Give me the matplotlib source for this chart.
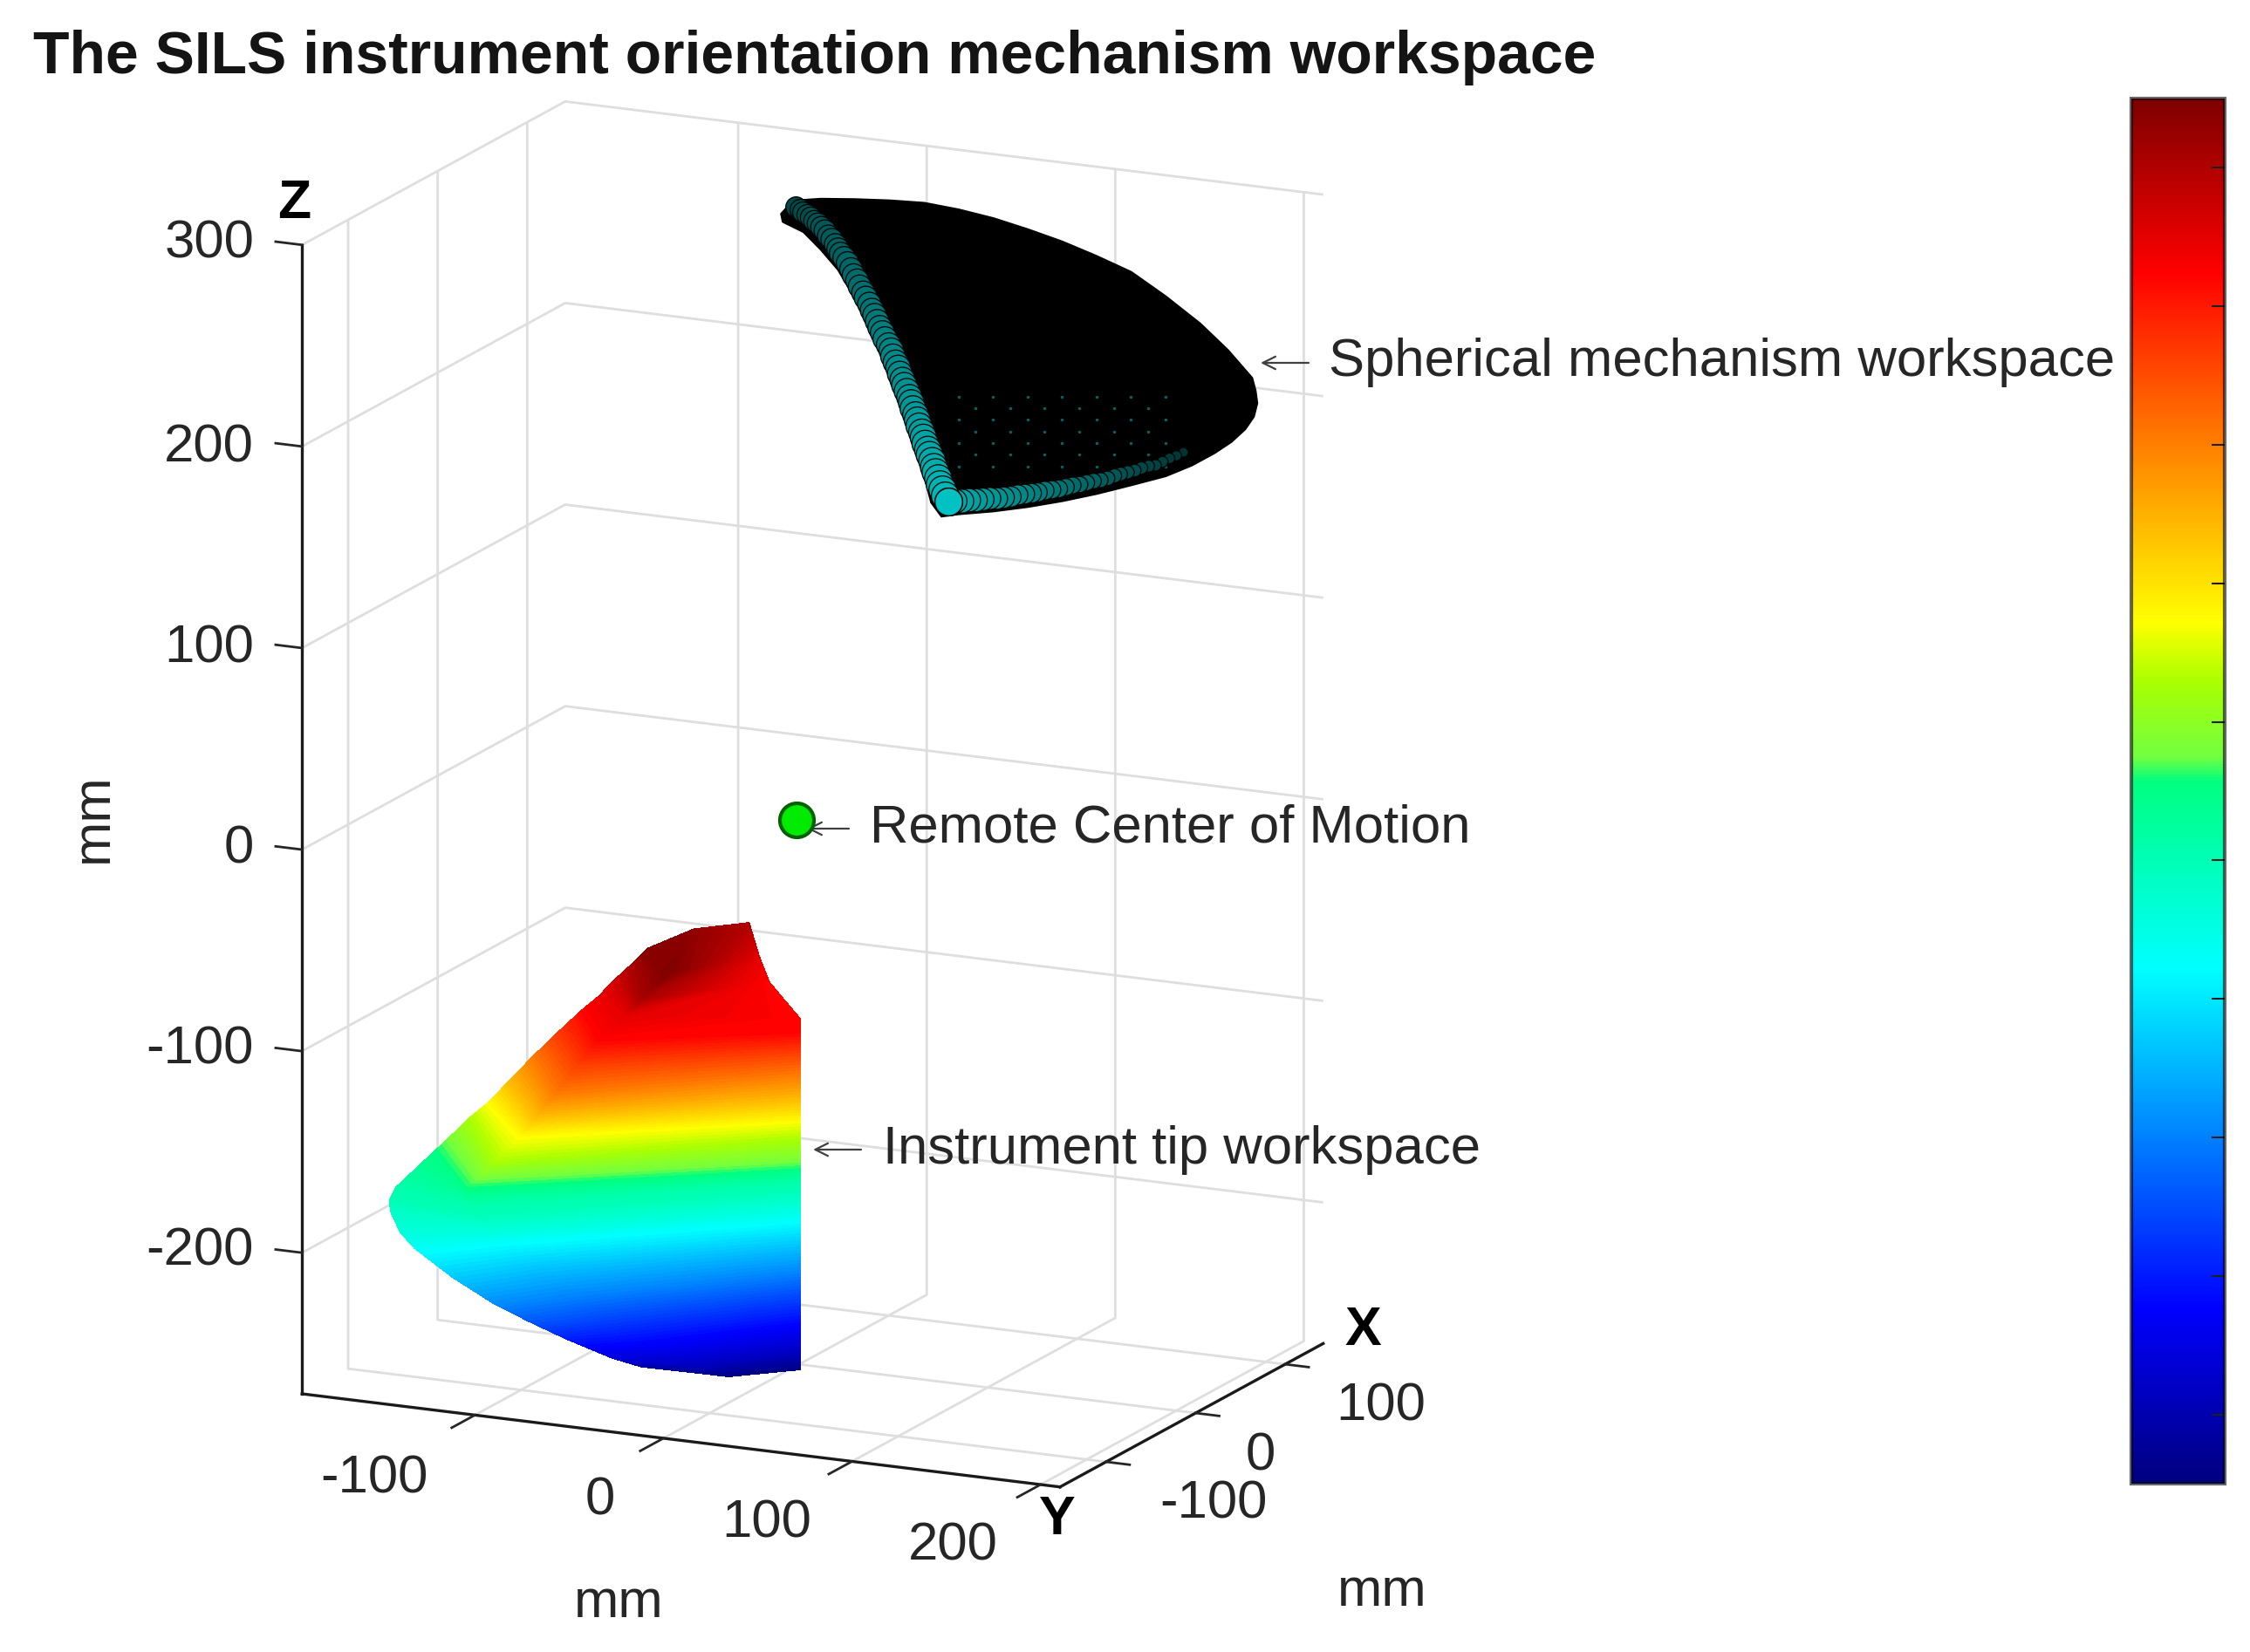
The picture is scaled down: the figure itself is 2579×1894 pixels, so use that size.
import numpy as np
import matplotlib
matplotlib.use("Agg")
import matplotlib.pyplot as plt
from matplotlib.colors import LinearSegmentedColormap, Normalize
from matplotlib.cm import ScalarMappable
from mpl_toolkits.mplot3d.art3d import Poly3DCollection

plt.rcParams['font.family'] = ['Liberation Sans', 'DejaVu Sans']

W, H = 2579, 1894

title = "The SILS instrument orientation mechanism workspace"
x_ticks = [-100, 0, 100]
y_ticks = [-100, 0, 100, 200]
z_ticks = [-200, -100, 0, 100, 200, 300]
x_limits = (142.5, -151.5)
y_limits = (-191.7, 210.3)
z_limits = (-270, 300)
bar_ticks = [0.05, 0.15, 0.25, 0.35, 0.45, 0.55, 0.65, 0.75, 0.85, 0.95]

# Instrument tip workspace: rows of (left, middle, right) points
tip_x = -105
tip_y = [
    [-33.7, 12.6, 50.4], [-49.1, -2.9, 50.4], [-73.8, -26.0, 50.4], [-93.9, -49.1, 50.4],
    [-112.4, -72.3, 50.4], [-134.0, -87.7, 50.4], [-154.1, -106.2, 50.4], [-161.8, -112.4, 50.4],
    [-167.0, -118.6, 50.4], [-167.4, -120.9, 50.4],
    [-164.1, -123.2, 50.4], [-144.0, -126.3, 50.4], [-135.6, -120.1, 50.4], [-124.0, -110.9, 50.4],
    [-115.5, -98.5, 50.4], [-103.9, -89.3, 50.4], [-92.3, -80.0, 50.4], [-80.0, -67.7, 50.4],
    [-65.3, -56.9, 50.4], [-56.9, -41.4, 50.4], [-47.6, -33.7, 34.2], [-38.3, -19.8, 28.8],
    [-30.6, -5.9, 23.4],
]
tip_z = [
    [-249.8, -249.3, -241.5], [-247.3, -246.0, -233.5], [-240.5, -236.6, -219.1], [-234.0, -227.3, -205.4],
    [-227.3, -219.5, -193.4], [-216.9, -207.6, -180.6], [-204.8, -196.9, -167.8], [-197.7, -191.2, -160.6],
    [-187.8, -185.6, -154.2], [-182.2, -180.9, -150.2],
    [-175.6, -177.3, -147.0], [-155.7, -171.2, -141.4], [-147.4, -165.7, -137.4], [-135.7, -155.9, -126.1],
    [-128.3, -143.2, -118.1], [-115.8, -131.7, -106.9], [-103.2, -120.2, -95.7], [-90.6, -104.4, -84.5],
    [-76.2, -90.4, -74.1], [-68.8, -75.8, -67.2], [-58.8, -66.9, -51.1], [-49.8, -52.4, -38.9],
    [-41.7, -29.2, -22.7],
]
tip_v = [
    [0.03, 0.00, 0.00], [0.09, 0.06, 0.06], [0.15, 0.125, 0.125], [0.21, 0.19, 0.19],
    [0.26, 0.25, 0.25], [0.32, 0.31, 0.31], [0.38, 0.372, 0.372], [0.41, 0.41, 0.41],
    [0.43, 0.44, 0.44], [0.45, 0.455, 0.455],
    [0.46, 0.47, 0.47], [0.50, 0.507, 0.507], [0.53, 0.53, 0.53], [0.58, 0.58, 0.58],
    [0.622, 0.622, 0.622], [0.69, 0.69, 0.69], [0.75, 0.75, 0.75], [0.81, 0.81, 0.81],
    [0.87, 0.87, 0.87], [0.89, 0.90, 0.87], [0.92, 0.96, 0.87], [0.96, 1.00, 0.90],
    [1.00, 0.98, 0.95],
]

# Spherical mechanism workspace outline
sph_x = 100
sph_y = [-57.3, -50.9, -36.3, -18.0, 0.3, 18.7, 37.0, 55.3, 73.6, 91.9, 110.2, 128.5, 146.8, 165.1,
         179.8, 192.6, 194.4, 195.3, 193.5, 188.9, 181.6, 172.5, 160.6, 146.8, 128.5, 110.2, 91.9,
         73.6, 55.3, 37.0, 27.8, 22.3, 18.7, 15.0, 10.4, 5.8, -1.5, -8.8, -18.0, -27.1, -36.3, -45.4, -56.4]
sph_z = [270.2, 277.5, 280.1, 282.0, 283.5, 284.4, 283.2, 281.0, 277.6, 273.6, 268.5, 262.7, 252.7, 241.3,
         229.8, 217.5, 211.4, 205.3, 198.4, 191.6, 184.5, 177.8, 170.4, 163.5, 156.9, 150.5, 144.8,
         139.8, 135.5, 132.0, 129.8, 136.1, 148.6, 161.2, 175.1, 189.1, 204.0, 219.1, 232.5, 245.9, 254.9, 262.5, 266.3]

# Markers along the two rim edges
edge1_y = [31.5, 29.9, 28.4, 27.2, 26.0, 24.9, 23.8, 22.7, 21.6, 20.4, 19.2, 18.2, 17.2, 16.1, 15.0, 13.9,
           12.8, 11.7, 10.6, 9.4, 8.2, 7.0, 5.8, 4.6, 3.5, 2.2, 0.9, -0.5, -1.9, -3.3, -4.8, -6.1, -7.5, -9.0,
           -10.6, -12.2, -13.8, -15.4, -17.1, -18.7, -20.4, -22.2, -24.0, -25.5, -27.1, -28.7, -30.4, -32.2,
           -34.1, -35.9, -37.7, -39.5, -41.4, -43.4, -45.4, -47.2, -49.1]
edge1_z = [137.6, 140.3, 143.1, 145.8, 148.5, 151.2, 154.0, 156.8, 159.6, 162.3, 165.0, 167.8, 170.6, 173.3,
           176.1, 178.9, 181.7, 184.4, 187.1, 189.9, 192.6, 195.4, 198.2, 200.9, 203.6, 206.3, 209.1, 211.8,
           214.6, 217.3, 220.0, 222.7, 225.4, 228.1, 230.9, 233.6, 236.3, 239.0, 241.7, 244.4, 247.1, 249.7,
           252.4, 254.4, 256.4, 258.4, 260.4, 262.3, 264.3, 265.9, 267.5, 268.8, 270.0, 271.2, 272.4, 273.4, 274.4]
edge2_y = [35.1, 38.8, 42.4, 46.1, 49.8, 53.4, 57.1, 60.8, 64.5, 68.1, 71.8, 75.4, 79.0, 82.7, 86.4, 90.0, 93.7,
           97.4, 101.0, 104.7, 108.4, 112.0, 115.7, 119.4, 123.0, 126.7, 130.4, 134.0, 137.7, 141.3, 145.0,
           148.7, 152.4, 156.0]
edge2_z = [138.2, 138.8, 139.4, 140.0, 140.8, 141.5, 142.3, 143.1, 144.0, 145.0, 145.9, 146.9, 147.8, 148.8,
           149.8, 150.8, 152.0, 153.1, 154.2, 155.4, 156.5, 157.6, 159.0, 160.4, 161.8, 163.2, 164.6, 166.0,
           167.2, 168.4, 170.5, 172.7, 174.5, 176.4]

# Specks showing through the dark interior
dots_y = [37, 55.3, 73.6, 91.9, 110.2, 128.5, 146.8, 37, 55.3, 73.6, 91.9, 110.2, 128.5, 146.8,
          37, 55.3, 73.6, 91.9, 110.2, 128.5, 146.8, 37, 55.3, 73.6, 91.9, 110.2, 128.5, 146.8,
          46.1, 64.4, 82.7, 101, 119.4, 137.7, 46.1, 64.4, 82.7, 101, 119.4, 137.7,
          46.1, 64.4, 82.7, 101, 119.4, 137.7]
dots_z = [155.5, 157.6, 159.7, 161.8, 163.9, 166, 168.1, 167, 169.1, 171.2, 173.3, 175.4, 177.5, 179.6,
          178.6, 180.7, 182.8, 184.9, 187, 189.1, 191.2, 190.1, 192.2, 194.3, 196.4, 198.5, 200.6, 202.7,
          162.4, 164.5, 166.6, 168.7, 170.8, 172.9, 173.9, 176, 178.1, 180.2, 182.3, 184.4,
          185.5, 187.6, 189.7, 191.8, 193.9, 196]

# Remote centre of motion
rcm_x, rcm_y, rcm_z = 0, -1.5, 0

cmap = LinearSegmentedColormap.from_list("bar", [
    (0.0, (0, 0, 0.50)), (0.125, (0, 0, 1)), (0.372, (0, 1, 1)), (0.507, (0, 1, 0.5)),
    (0.525, (0.45, 1, 0.25)), (0.58, (0.67, 1, 0)), (0.622, (1, 1, 0)), (0.75, (1, 0.5, 0)),
    (0.875, (1, 0, 0)), (1.0, (0.5, 0, 0))], N=512)

fig = plt.figure(figsize=(W / 100, H / 100), dpi=100, facecolor='white')


def px(x, y):
    return x / W, 1 - y / H


A = 1758
ax = fig.add_axes([28.7 / W, 80.7 / H, A / W, A / H], projection='3d', proj_type='ortho')
ax.computed_zorder = False
ax.patch.set_alpha(0)
ax.set_xlim(*x_limits, view_margin=0)
ax.set_ylim(*y_limits, view_margin=0)
ax.set_zlim(*z_limits, view_margin=0)
ax.set_box_aspect((294, 402, 570))
ax.view_init(elev=15, azim=25.4)
ax.set_xticks(x_ticks)
ax.set_yticks(y_ticks)
ax.set_zticks(z_ticks)
ax.set_xticklabels([])
ax.set_yticklabels([])
ax.set_zticklabels([])
for axis in (ax.xaxis, ax.yaxis, ax.zaxis):
    axis.set_pane_color((1, 1, 1, 0))
    axis.pane.set_edgecolor((1, 1, 1, 0))
    axis.line.set_color('#1a1a1a')
    axis.line.set_linewidth(2.4)
    axis._axinfo['grid'].update(color='#dedede', linewidth=2.0)
    axis._axinfo['tick'].update(inward_factor=0.0, outward_factor=0.0)
ax.zaxis.set_ticks_position('lower')

TICK = '#262626'
x_lo, x_hi = min(x_limits), max(x_limits)
y_lo, y_hi = y_limits
z_lo = z_limits[0]
for t in y_ticks:
    ax.plot([x_lo, x_lo - 26], [t, t], [z_lo, z_lo], color=TICK, lw=2.0, zorder=1)
for t in x_ticks:
    ax.plot([t, t], [y_hi, y_hi + 12.5], [z_lo, z_lo], color=TICK, lw=2.0, zorder=1)
for t in z_ticks:
    ax.plot([x_lo, x_lo], [y_lo, y_lo - 14], [t, t], color=TICK, lw=2.0, zorder=1)

ax.contourf(np.array(tip_v), np.array(tip_y), np.array(tip_z), levels=np.linspace(0, 1, 129),
            zdir='x', offset=tip_x, cmap=cmap, extend='both', antialiased=False, zorder=3)

verts = [list(zip([sph_x] * len(sph_y), sph_y, sph_z))]
ax.add_collection3d(Poly3DCollection(verts, facecolors='black', edgecolors='black', linewidths=1.5, zorder=4))

ax.scatter([sph_x] * len(dots_y), dots_y, dots_z, s=6, c=[(0, 0.4, 0.4)], depthshade=False, linewidths=0, zorder=5)


def rim(ys, zs, d_far, d_near, t_far, t_near, base):
    n = len(ys)
    diam = np.linspace(d_far, d_near, n)
    shade = np.linspace(t_far, t_near, n)
    for i, (yv, zv) in enumerate(zip(ys[::-1], zs[::-1])):
        ax.scatter([sph_x], [yv], [zv], s=diam[i] ** 2, c=[(0, shade[i], shade[i])], edgecolors='black',
                   linewidths=0.9, depthshade=False, zorder=base + i * 0.001)


rim(edge2_y, edge2_z, 8, 20, 0.2, 0.66, 6)
rim(edge1_y, edge1_z, 17, 23, 0.28, 0.72, 7)
ax.scatter([sph_x], [edge1_y[0]], [edge1_z[0]], s=520, c=[(0, 0.76, 0.76)], edgecolors='black',
           linewidths=1.0, depthshade=False, zorder=8)

ax.scatter([rcm_x], [rcm_y], [rcm_z], s=790, c=[(0, 0.92, 0)], edgecolors=(0, 0.38, 0), linewidths=3,
           depthshade=False, zorder=9)

FS = 44.4
for t, (xp, yp) in zip(y_ticks, [(429, 1696), (688, 1721), (879, 1747), (1092, 1773)]):
    fig.text(*px(xp, yp), str(t), ha='center', va='center', fontsize=FS, color=TICK)
for t, (xp, yp) in zip(x_ticks, [(1391, 1725), (1445, 1670), (1583, 1613)]):
    fig.text(*px(xp, yp), str(t), ha='center', va='center', fontsize=FS, color=TICK)
for t, yp in zip(z_ticks, [1435, 1204, 974, 744, 514, 280]):
    fig.text(*px(291, yp), str(t), ha='right', va='center', fontsize=FS, color=TICK)

fig.text(*px(709, 1838), 'mm', ha='center', va='center', fontsize=FS, color=TICK)
fig.text(*px(1584, 1825), 'mm', ha='center', va='center', fontsize=FS, color=TICK)
fig.text(*px(107, 938), 'mm', ha='center', va='center', fontsize=FS, color=TICK, rotation=90)
fig.text(*px(1212, 1742), 'Y', ha='center', va='center', fontsize=45, fontweight='bold', color='black')
fig.text(*px(1562, 1526), 'X', ha='center', va='center', fontsize=45, fontweight='bold', color='black')
fig.text(*px(337, 234), 'Z', ha='center', va='center', fontsize=45, fontweight='bold', color='black')
fig.text(*px(38, 66), title, ha='left', va='center', fontsize=48.9, fontweight='bold', color='#141414')

notes = [("Spherical mechanism workspace", 1523, 415, 1500, 1445, 416),
         ("Remote Center of Motion", 997, 950, 973, 925, 950),
         ("Instrument tip workspace", 1012, 1318, 987, 932, 1318)]
for label, tx, ty, x0, x1, ya in notes:
    fig.text(*px(tx, ty), label, ha='left', va='center', fontsize=FS, color=TICK)
    ax.annotate('', xy=(x1, H - ya), xytext=(x0, H - ya), xycoords='figure pixels', textcoords='figure pixels',
                arrowprops=dict(arrowstyle='->', color='#404040', lw=1.6, mutation_scale=26,
                                shrinkA=0, shrinkB=0))

cax = fig.add_axes([2443 / W, 1 - 1701 / H, 107 / W, 1588 / H])
cb = fig.colorbar(ScalarMappable(norm=Normalize(0, 1), cmap=cmap), cax=cax, ticks=bar_ticks)
cb.ax.tick_params(direction='in', length=11, width=1.5, labelright=False, color='#202020')
cb.outline.set_edgecolor((0, 0, 0, 0.6))
cb.outline.set_linewidth(3)

fig.savefig('out.png', dpi=100, facecolor='white')
